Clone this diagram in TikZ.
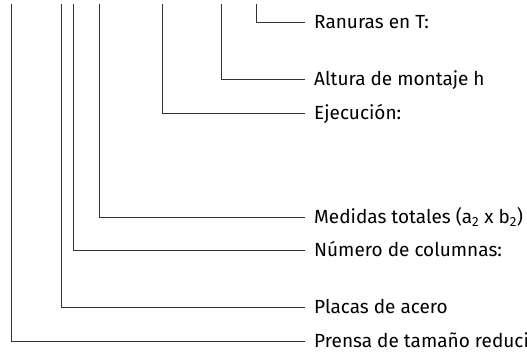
\documentclass[tikz,border=0pt]{standalone}
\usepackage{fontspec}
\setmainfont{Fira Sans}
\usetikzlibrary{positioning}
\tikzset{
	leader/.style={draw=black!80, line width=0.8pt},
	callout/.style={anchor=west, inner xsep=9pt, inner ysep=0pt, text height=13.5pt, text depth=0pt, font=\fontsize{19}{22}\selectfont}
}
\begin{document}
\begin{tikzpicture}[x=1pt, y=-1pt]

	\useasboundingbox (0,0) rectangle (527,351);

	% --- Labels ---
	\node[callout] (ranuras)   at (305,22)  {Ranuras en T:};
	\node[callout] (altura)    at (305,79)  {Altura de montaje h};
	\node[callout] (ejecucion) at (305,113) {Ejecución:};
	\node[callout] (medidas)   at (305,217) {Medidas totales (a\textsubscript{2} x b\textsubscript{2})};
	\node[callout] (columnas)  at (305,250) {Número de columnas:};
	\node[callout] (placas)    at (305,307) {Placas de acero};
	\node[callout] (prensa)    at (305,341) {Prensa de tamaño reducido};

	% --- Top ends ---
	\coordinate (ranuras_top)   at (256,4);
	\coordinate (altura_top)    at (221,4);
	\coordinate (ejecucion_top) at (162,4);
	\coordinate (medidas_top)   at (99,4);
	\coordinate (columnas_top)  at (73,4);
	\coordinate (placas_top)    at (61,4);
	\coordinate (prensa_top)    at (11,4);

	% --- Leaders ---
	\draw[leader] (ranuras_top) |- (ranuras.west);
	\draw[leader] (altura_top) |- (altura.west);
	\draw[leader] (ejecucion_top) |- (ejecucion.west);
	\draw[leader] (medidas_top) |- (medidas.west);
	\draw[leader] (columnas_top) |- (columnas.west);
	\draw[leader] (placas_top) |- (placas.west);
	\draw[leader] (prensa_top) |- (prensa.west);

\end{tikzpicture}
\end{document}
